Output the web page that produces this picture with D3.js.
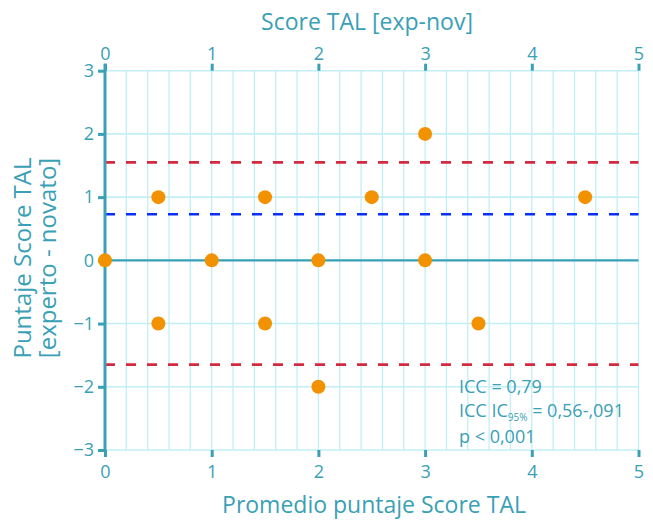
<!DOCTYPE html>
<html>
<head>
<meta charset="utf-8">
<script src="https://cdn.jsdelivr.net/npm/d3@7"></script>
<style>
  html, body { margin: 0; padding: 0; background: #fff; }
  svg text { font-family: "Open Sans", Lato, sans-serif; }
</style>
</head>
<body>
<svg id="chart" width="653" height="521"></svg>
<script>
// Bland-Altman style plot: mean score vs. difference (expert - novice)
const meanScore = [0, 0.5, 0.5, 1, 1.5, 1.5, 2, 2, 2.5, 3, 3, 3.5, 4.5];
const diffScore = [0, 1, -1, 0, 1, -1, 0, -2, 1, 2, 0, -1, 1];
const xTicks = [0, 1, 2, 3, 4, 5];
const yTicks = [-3, -2, -1, 0, 1, 2, 3];
const meanDiff = 0.73;
const upperLimit = 1.55;
const lowerLimit = -1.65;
const statLines = ["ICC = 0,79", "ICC IC", "p < 0,001"];

const teal = "#3aa0b6";
const grid = "#c2eef5";
const orange = "#f39200";

const svg = d3.select("#chart");
const x = d3.scaleLinear().domain([0, 5]).range([105, 638.5]);
const y = d3.scaleLinear().domain([-3, 3]).range([450, 70.7]);

// minor vertical gridlines every 0.2
const xMinor = d3.range(0, 5.0001, 0.2);
svg.append("g").selectAll("line").data(xMinor).join("line")
  .attr("x1", d => x(d)).attr("x2", d => x(d))
  .attr("y1", y(3)).attr("y2", y(-3))
  .attr("stroke", grid).attr("stroke-width", 1.3);

// horizontal gridlines at integers
svg.append("g").selectAll("line").data(yTicks).join("line")
  .attr("x1", x(0)).attr("x2", x(5))
  .attr("y1", d => y(d)).attr("y2", d => y(d))
  .attr("stroke", grid).attr("stroke-width", 1.6);

// zero line
svg.append("line")
  .attr("x1", x(0)).attr("x2", x(5))
  .attr("y1", y(0)).attr("y2", y(0))
  .attr("stroke", teal).attr("stroke-width", 2.2);

// limits of agreement and mean difference
const refLines = [
  { v: upperLimit, c: "#d42a40" },
  { v: meanDiff, c: "#0b2ff5" },
  { v: lowerLimit, c: "#d42a40" }
];
svg.append("g").selectAll("line").data(refLines).join("line")
  .attr("x1", x(0)).attr("x2", x(5))
  .attr("y1", d => y(d.v)).attr("y2", d => y(d.v))
  .attr("stroke", d => d.c).attr("stroke-width", 2.6)
  .attr("stroke-dasharray", "10,11");

// axes
const axisStyle = (g) => {
  g.selectAll(".domain").remove();
  g.selectAll(".tick line").attr("stroke", teal).attr("stroke-width", 3);
  g.selectAll(".tick text").attr("fill", teal).attr("font-size", 18);
};

svg.append("g").attr("transform", `translate(0,${y(3)})`)
  .call(d3.axisTop(x).tickValues(xTicks).tickFormat(d3.format("d")).tickSize(7).tickPadding(4))
  .call(axisStyle);

svg.append("g").attr("transform", `translate(0,${y(-3)})`)
  .call(d3.axisBottom(x).tickValues(xTicks).tickFormat(d3.format("d")).tickSize(7).tickPadding(8))
  .call(axisStyle);

svg.append("g").attr("transform", `translate(${x(0)},0)`)
  .call(d3.axisLeft(y).tickValues(yTicks).tickFormat(d3.format("d")).tickSize(7).tickPadding(4))
  .call(axisStyle);

// left axis spine
svg.append("line")
  .attr("x1", x(0)).attr("x2", x(0))
  .attr("y1", y(3) - 7).attr("y2", y(-3) + 1)
  .attr("stroke", teal).attr("stroke-width", 3);

// points
svg.append("g").selectAll("circle").data(meanScore.map((m, i) => [m, diffScore[i]])).join("circle")
  .attr("cx", d => x(d[0])).attr("cy", d => y(d[1]))
  .attr("r", 7).attr("fill", orange);

// titles
svg.append("text").attr("x", 367).attr("y", 30).attr("text-anchor", "middle")
  .attr("fill", teal).attr("font-size", 23).text("Score TAL [exp-nov]");
svg.append("text").attr("x", 374).attr("y", 513).attr("text-anchor", "middle")
  .attr("fill", teal).attr("font-size", 23).text("Promedio puntaje Score TAL");
const yTitle = svg.append("text").attr("transform", "translate(0,258) rotate(-90)")
  .attr("text-anchor", "middle").attr("fill", teal).attr("font-size", 24);
yTitle.append("tspan").attr("x", 0).attr("y", 31).text("Puntaje Score TAL");
yTitle.append("tspan").attr("x", 0).attr("y", 56).text("[experto - novato]");

// statistics annotation
const ann = svg.append("g").attr("fill", teal).attr("font-size", 18);
ann.append("text").attr("x", 459).attr("y", 393).text(statLines[0]);
const l2 = ann.append("text").attr("x", 459).attr("y", 417);
l2.append("tspan").text(statLines[1]);
l2.append("tspan").attr("font-size", 10).attr("dy", 4).text("95%");
l2.append("tspan").attr("dy", -4).text(" = 0,56-,091");
ann.append("text").attr("x", 459).attr("y", 443).text(statLines[2]);
</script>
</body>
</html>
